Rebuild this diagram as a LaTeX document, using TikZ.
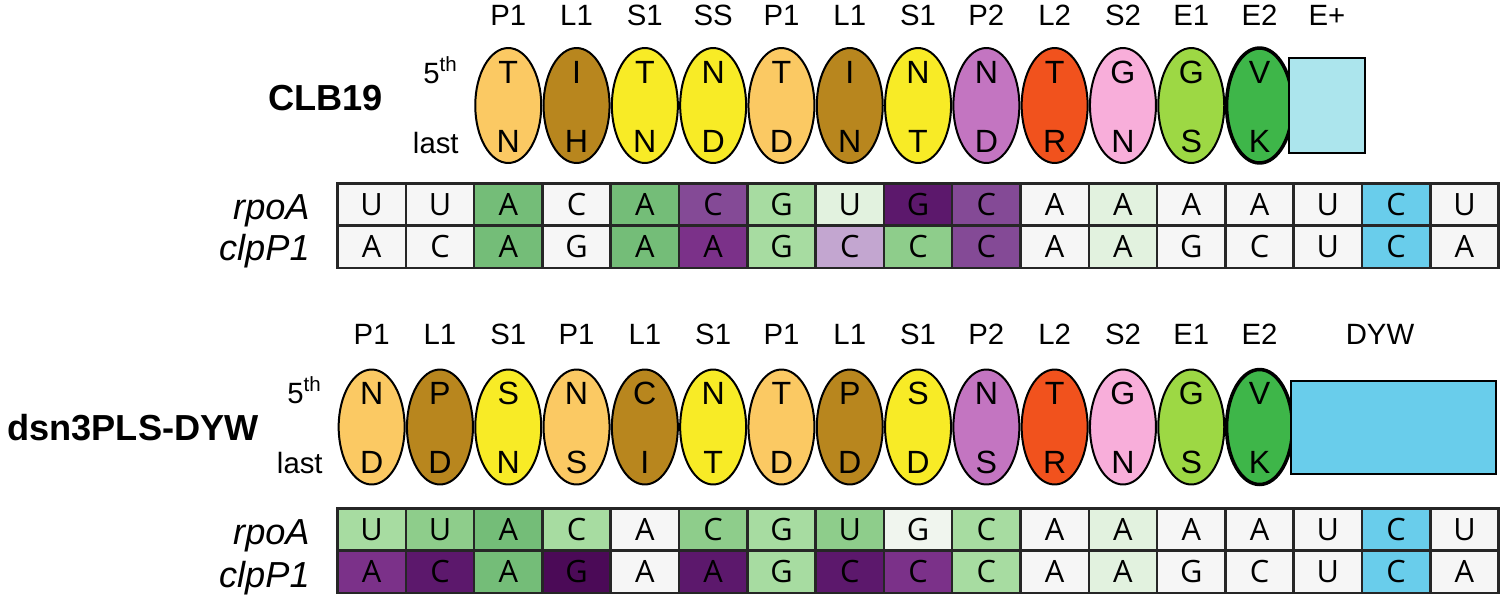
\documentclass[tikz,border=0pt]{standalone}
\usepackage{fontspec}
\setmainfont{Liberation Sans}
\newfontfamily\gridfont{Open Sans}
\usepackage{xcolor}
\usetikzlibrary{shapes.geometric}

% motif colours
\definecolor{pone}{HTML}{FBC963}
\definecolor{lone}{HTML}{B8861E}
\definecolor{sone}{HTML}{F8EB26}
\definecolor{ptwo}{HTML}{C375C1}
\definecolor{ltwo}{HTML}{F1521D}
\definecolor{stwo}{HTML}{F8AEDA}
\definecolor{eone}{HTML}{9DD844}
\definecolor{etwo}{HTML}{3EB649}
\definecolor{eplus}{HTML}{ACE5ED}
\definecolor{dyw}{HTML}{69CDEB}
% cell colours
\definecolor{cw}{HTML}{F6F6F6}
\definecolor{cwg}{HTML}{F0F5EE}
\definecolor{gvl}{HTML}{E2F2DF}
\definecolor{gl}{HTML}{A7DCA1}
\definecolor{gml}{HTML}{8ECD8B}
\definecolor{gm}{HTML}{74BD78}
\definecolor{pl}{HTML}{C3A6D0}
\definecolor{pm}{HTML}{844A96}
\definecolor{pmm}{HTML}{7B3189}
\definecolor{pd}{HTML}{5C186C}
\definecolor{pdd}{HTML}{4B0A57}
\definecolor{bl}{HTML}{69CDEB}

\begin{document}
\begin{tikzpicture}[x=0.02cm, y=-0.02cm,
    motif/.style={ellipse, draw, line width=0.04cm, minimum width=1.32cm, minimum height=2.3cm, inner sep=0pt},
    domainbox/.style={draw, line width=0.045cm, inner sep=0pt},
    res/.style={inner sep=0pt, font=\fontsize{18.3}{20}\selectfont},
    tag/.style={inner sep=0pt, font=\fontsize{16.7}{18}\selectfont},
    poslab/.style={inner sep=0pt, anchor=base east, font=\fontsize{16.7}{18}\selectfont},
    cell/.style={draw=black!85, line width=0.05cm, minimum width=1.366cm, minimum height=0.845cm, inner sep=0pt, font=\gridfont\fontsize{17.5}{19}\selectfont},
    gene/.style={inner sep=0pt, anchor=base east, font=\itshape\fontsize{20.6}{22}\selectfont},
    prot/.style={inner sep=0pt, anchor=east, font=\bfseries\fontsize{20.6}{22}\selectfont}]
\useasboundingbox (0,0) rectangle (1501,595);

% CLB19
\node[prot] (clb) at (383,98) {CLB19};
\node[poslab] (tfifth) at (458,83) {5\textsuperscript{th}};
\node[poslab] (tlast) at (459,153) {last};
\foreach \dom/\rf/\rl/\clr [count=\i from 2] in {P1/T/N/pone, L1/I/H/lone, S1/T/N/sone, SS/N/D/sone, P1/T/D/pone, L1/I/N/lone, S1/N/T/sone, P2/N/D/ptwo, L2/T/R/ltwo, S2/G/N/stwo, E1/G/S/eone, E2/V/K/etwo} {
    \ifnum \i=13 \def\lw{0.07cm}\else\def\lw{0.04cm}\fi
    \node[motif, fill=\clr, line width=\lw] (tm\i) at ({371.65+68.3*\i}, 105.5) {};
    \node[tag] (tl\i) at ({371.65+68.3*\i}, 15) {\dom};
    \node[res] (tf\i) at ({371.65+68.3*\i}, 72) {\rf};
    \node[res] (tn\i) at ({371.65+68.3*\i}, 141) {\rl};
}
\node[domainbox, fill=eplus, minimum width=1.52cm, minimum height=1.9cm] (eplusbox) at (1327,105.5) {};
\node[tag] (epluslab) at (1327,15) {E+};

\node[gene] (trpoa) at (310,219) {rpoA};
\node[gene] (tclpp) at (310,260) {clpP1};
\foreach \nt/\clr [count=\j from 0] in {U/cw, U/cw, A/gm, C/cw, A/gm, C/pm, G/gl, U/gvl, G/pd, C/pm, A/cw, A/gvl, A/cw, A/cw, U/cw, C/bl, U/cw}
    \node[cell, fill=\clr] (ta\j) at ({371.65+68.3*\j}, 204.4) {\nt};
\foreach \nt/\clr [count=\j from 0] in {A/cw, C/cw, A/gm, G/cw, A/gm, A/pmm, G/gl, C/pl, C/gml, C/pm, A/cw, A/gvl, G/cw, C/cw, U/cw, C/bl, A/cw}
    \node[cell, fill=\clr] (tb\j) at ({371.65+68.3*\j}, 246.65) {\nt};

% dsn3PLS-DYW
\node[prot] (dsn) at (259,428) {dsn3PLS-DYW};
\node[poslab] (bfifth) at (322,403) {5\textsuperscript{th}};
\node[poslab] (blast) at (323,473) {last};
\foreach \dom/\rf/\rl/\clr [count=\i from 0] in {P1/N/D/pone, L1/P/D/lone, S1/S/N/sone, P1/N/S/pone, L1/C/I/lone, S1/N/T/sone, P1/T/D/pone, L1/P/D/lone, S1/S/D/sone, P2/N/S/ptwo, L2/T/R/ltwo, S2/G/N/stwo, E1/G/S/eone, E2/V/K/etwo} {
    \ifnum \i=13 \def\lw{0.07cm}\else\def\lw{0.04cm}\fi
    \node[motif, fill=\clr, line width=\lw] (bm\i) at ({371.65+68.3*\i}, 427) {};
    \node[tag] (bl\i) at ({371.65+68.3*\i}, 334) {\dom};
    \node[res] (bf\i) at ({371.65+68.3*\i}, 393) {\rf};
    \node[res] (bn\i) at ({371.65+68.3*\i}, 462) {\rl};
}
\node[domainbox, fill=dyw, minimum width=4.1cm, minimum height=1.86cm] (dywbox) at (1393.5,427.5) {};
\node[tag] (dywlab) at (1380,334) {DYW};

\node[gene] (brpoa) at (310,544.5) {rpoA};
\node[gene] (bclpp) at (310,587) {clpP1};
\foreach \nt/\clr [count=\j from 0] in {U/gl, U/gml, A/gm, C/gl, A/cw, C/gml, G/gl, U/gml, G/cwg, C/gl, A/cw, A/gvl, A/cw, A/cw, U/cw, C/bl, U/cw}
    \node[cell, fill=\clr] (ba\j) at ({371.65+68.3*\j}, 529.6) {\nt};
\foreach \nt/\clr [count=\j from 0] in {A/pmm, C/pd, A/gm, G/pdd, A/cw, A/pd, G/gl, C/pd, C/pmm, C/gl, A/cw, A/gvl, G/cw, C/cw, U/cw, C/bl, A/cw}
    \node[cell, fill=\clr] (bb\j) at ({371.65+68.3*\j}, 571.85) {\nt};
\end{tikzpicture}
\end{document}
